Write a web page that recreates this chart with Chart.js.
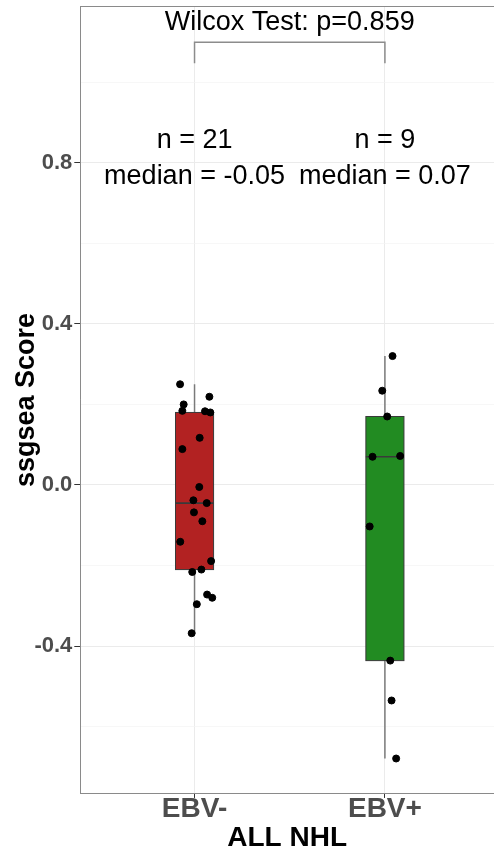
<!DOCTYPE html>
<html>
<head>
<meta charset="utf-8">
<script src="https://cdn.jsdelivr.net/npm/chart.js@4.4.0/dist/chart.umd.min.js"></script>
<style>
  html, body { margin: 0; padding: 0; background: white; overflow: hidden; }
  #wrap { width: 494px; height: 851px; }
</style>
</head>
<body>
<div id="wrap"><canvas id="boxChart" width="494" height="851"></canvas></div>
<script>
const groups = ['EBV-', 'EBV+'];
// ssgsea scores, with the jitter offsets of each dot
const ebvNegScores = [0.250, 0.219, 0.200, 0.184, 0.183, 0.180, 0.117, 0.089, -0.005, -0.038, -0.045,
                      -0.068, -0.090, -0.141, -0.189, -0.210, -0.216, -0.272, -0.280, -0.296, -0.368];
const ebvNegJitter = [-0.076, 0.078, -0.057, -0.064, 0.055, 0.083, 0.027, -0.064, 0.025, -0.006, 0.064,
                      -0.003, 0.041, -0.075, 0.087, 0.036, -0.012, 0.066, 0.093, 0.012, -0.015];
const ebvPosScores = [0.320, 0.234, 0.170, 0.070, 0.072, -0.103, -0.436, -0.535, -0.679];
const ebvPosJitter = [0.040, -0.014, 0.012, -0.065, 0.080, -0.080, 0.028, 0.035, 0.059];
const boxColors = ['#B22222', '#228B22'];
const yTicks = [-0.6, -0.4, -0.2, 0.0, 0.2, 0.4, 0.6, 0.8, 1.0];
const yMajor = [-0.4, 0.0, 0.4, 0.8];
const testLabel = 'Wilcox Test: p=0.859';
const nLabels = ['n = 21', 'n = 9'];
const medianLabels = ['median = -0.05', 'median = 0.07'];
// where the annotations sit, in y units
const bracketTop = 1.099;
const bracketFoot = 1.047;
const testLabelY = 1.148;
const nLabelY = 0.855;
const medianLabelY = 0.765;

const fontFamily = '"Liberation Sans", Arial, Helvetica, sans-serif';
const allScores = [ebvNegScores, ebvPosScores];
const allJitter = [ebvNegJitter, ebvPosJitter];

// quantile like R type 7
function quantile(arr, p) {
    let s = arr.slice().sort((a, b) => a - b);
    let h = (s.length - 1) * p;
    let lo = Math.floor(h);
    let hi = Math.ceil(h);
    return s[lo] + (s[hi] - s[lo]) * (h - lo);
}
function boxStats(arr) {
    let q1 = quantile(arr, 0.25);
    let med = quantile(arr, 0.5);
    let q3 = quantile(arr, 0.75);
    let iqr = q3 - q1;
    let inside = arr.filter(v => v >= q1 - 1.5 * iqr && v <= q3 + 1.5 * iqr);
    return { q1: q1, med: med, q3: q3, lo: Math.min(...inside), hi: Math.max(...inside) };
}
const stats = allScores.map(boxStats);

let datasets = allScores.map((scores, g) => ({
    label: groups[g],
    data: scores.map((v, i) => ({ x: g + 1 + allJitter[g][i], y: v })),
    backgroundColor: '#000000',
    borderColor: '#000000',
    pointRadius: 3.5,
    pointHoverRadius: 3.5
}));

const isMajor = (c) => c.tick && yMajor.includes(c.tick.value);

const boxPlugin = {
    id: 'boxPlugin',
    beforeDatasetsDraw(chart) {
        const ctx = chart.ctx;
        const x = chart.scales.x;
        const y = chart.scales.y;
        stats.forEach((s, g) => {
            let cx = x.getPixelForValue(g + 1);
            let half = x.getPixelForValue(g + 1.1) - cx;
            ctx.save();
            // whisker
            ctx.strokeStyle = '#7a7a7a';
            ctx.lineWidth = 1.5;
            ctx.beginPath();
            ctx.moveTo(cx, y.getPixelForValue(s.hi));
            ctx.lineTo(cx, y.getPixelForValue(s.lo));
            ctx.stroke();
            // box
            let top = y.getPixelForValue(s.q3);
            let bot = y.getPixelForValue(s.q1);
            ctx.fillStyle = boxColors[g];
            ctx.fillRect(cx - half, top, half * 2, bot - top);
            ctx.strokeStyle = '#3a3a3a';
            ctx.lineWidth = 1;
            ctx.strokeRect(cx - half, top, half * 2, bot - top);
            // median
            ctx.lineWidth = 1.6;
            ctx.beginPath();
            ctx.moveTo(cx - half, y.getPixelForValue(s.med));
            ctx.lineTo(cx + half, y.getPixelForValue(s.med));
            ctx.stroke();
            ctx.restore();
        });
    },
    afterDraw(chart) {
        const ctx = chart.ctx;
        const x = chart.scales.x;
        const y = chart.scales.y;
        const area = chart.chartArea;
        ctx.save();
        // panel border top (right edge is cut off in the original)
        ctx.strokeStyle = '#8a8a8a';
        ctx.lineWidth = 1;
        ctx.beginPath();
        ctx.moveTo(area.left, area.top + 0.5);
        ctx.lineTo(area.right, area.top + 0.5);
        ctx.stroke();
        // bracket
        let x1 = x.getPixelForValue(1);
        let x2 = x.getPixelForValue(2);
        ctx.strokeStyle = '#8c8c8c';
        ctx.lineWidth = 1.5;
        ctx.beginPath();
        ctx.moveTo(x1, y.getPixelForValue(bracketFoot));
        ctx.lineTo(x1, y.getPixelForValue(bracketTop));
        ctx.lineTo(x2, y.getPixelForValue(bracketTop));
        ctx.lineTo(x2, y.getPixelForValue(bracketFoot));
        ctx.stroke();
        // texts
        ctx.fillStyle = '#000000';
        ctx.textAlign = 'center';
        ctx.textBaseline = 'middle';
        ctx.font = '27px ' + fontFamily;
        ctx.fillText(testLabel, (x1 + x2) / 2, y.getPixelForValue(testLabelY));
        groups.forEach((g, i) => {
            let cx = x.getPixelForValue(i + 1);
            ctx.fillText(nLabels[i], cx, y.getPixelForValue(nLabelY));
            ctx.fillText(medianLabels[i], cx, y.getPixelForValue(medianLabelY));
        });
        ctx.restore();
    }
};

const config = {
    type: 'scatter',
    data: { datasets: datasets },
    options: {
        responsive: false,
        animation: false,
        layout: { autoPadding: false, padding: { top: 6, left: 4, right: 0, bottom: 0 } },
        plugins: {
            legend: { display: false },
            tooltip: { enabled: false }
        },
        scales: {
            x: {
                type: 'linear',
                min: 0.4,
                max: 2.573,
                afterBuildTicks: (scale) => { scale.ticks = groups.map((g, i) => ({ value: i + 1 })); },
                grid: {
                    color: '#EBEBEB',
                    lineWidth: 1,
                    tickColor: '#333333',
                    tickLength: 4
                },
                border: { color: '#8a8a8a', width: 1 },
                ticks: {
                    color: '#4D4D4D',
                    padding: 0,
                    font: { family: fontFamily, size: 28, weight: 'bold', lineHeight: 0.786 },
                    callback: (v) => groups[Math.round(v) - 1]
                },
                title: {
                    display: true,
                    text: 'ALL NHL',
                    color: '#000000',
                    padding: { top: 5, bottom: 0 },
                    font: { family: fontFamily, size: 28, weight: 'bold', lineHeight: 0.93 }
                }
            },
            y: {
                min: -0.767,
                max: 1.189,
                afterBuildTicks: (scale) => { scale.ticks = yTicks.map(v => ({ value: v })); },
                grid: {
                    color: (c) => isMajor(c) ? '#EBEBEB' : '#F3F3F3',
                    lineWidth: (c) => isMajor(c) ? 1 : 0.7,
                    tickColor: (c) => isMajor(c) ? '#333333' : 'rgba(0,0,0,0)',
                    tickLength: 6
                },
                border: { color: '#8a8a8a', width: 1 },
                ticks: {
                    color: '#4D4D4D',
                    padding: 2,
                    font: (c) => ({ family: fontFamily, size: isMajor(c) ? 22 : 1, weight: 'bold' }),
                    callback: (v) => yMajor.includes(v) ? v.toFixed(1) : ''
                },
                title: {
                    display: true,
                    text: 'ssgsea Score',
                    color: '#000000',
                    padding: { top: 17.6, bottom: 0 },
                    font: { family: fontFamily, size: 27, weight: 'bold', lineHeight: 0.4 }
                }
            }
        }
    },
    plugins: [boxPlugin]
};

var boxChart = new Chart(document.getElementById('boxChart'), config);
</script>
</body>
</html>
